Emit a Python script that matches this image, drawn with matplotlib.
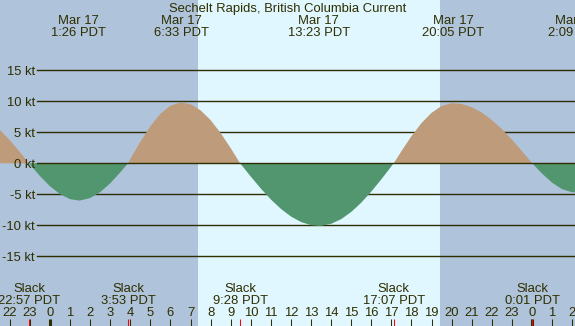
import matplotlib
matplotlib.use("Agg")
import matplotlib.pyplot as plt
import matplotlib.transforms as mtransforms

plt.rcParams['font.family'] = ['Liberation Sans', 'DejaVu Sans']

# ---- data (hours relative to Mar 17 00:00, current speed in knots) ----
hours = [-2.5, -2.0, -1.5, -1.05, -1.0, -0.5, 0.0, 0.5, 1.0, 1.433, 1.5, 2.0, 2.5, 3.0, 3.5,
         3.883, 4.0, 4.5, 5.0, 5.5, 6.0, 6.5, 6.55, 7.0, 7.5, 8.0, 8.5, 9.0, 9.467,
         9.5, 10.0, 10.5, 11.0, 11.5, 12.0, 12.5, 13.0, 13.383, 13.5, 14.0, 14.5, 15.0,
         15.5, 16.0, 16.5, 17.0, 17.117, 17.5, 18.0, 18.5, 19.0, 19.5, 20.0, 20.083,
         20.5, 21.0, 21.5, 22.0, 22.5, 23.0, 23.5, 24.0, 24.017, 24.5, 25.0, 25.5,
         26.0, 26.25]
speed = [5.40, 3.72, 1.82, 0.0, -0.19, -2.05, -3.70, -4.98, -5.78, -6.0, -5.99, -5.61,
         -4.65, -3.22, -1.46, 0.0, 0.67, 3.48, 5.99, 7.99, 9.29, 9.80, 9.80, 9.51, 8.55,
         6.96, 4.87, 2.44, 0.0, -0.13, -2.14, -4.07, -5.83, -7.35, -8.58, -9.47, -9.98,
         -10.1, -10.09, -9.76, -9.01, -7.85, -6.35, -4.57, -2.59, -0.49, 0.0, 1.95, 4.37,
         6.49, 8.14, 9.24, 9.69, 9.70, 9.57, 9.06, 8.19, 6.99, 5.53, 3.83, 1.98, 0.06,
         0.0, -1.64, -3.11, -4.17, -4.67, -4.69]

max_times = [1.433, 6.55, 13.383, 20.083, 26.15]
max_labels = ["1:26 PDT", "6:33 PDT", "13:23 PDT", "20:05 PDT", "2:09 PDT"]
max_dates = ["Mar 17", "Mar 17", "Mar 17", "Mar 17", "Mar 18"]

slack_times = [-1.05, 3.883, 9.467, 17.117, 24.017]
slack_labels = ["22:57 PDT", "3:53 PDT", "9:28 PDT", "17:07 PDT", "0:01 PDT"]

sunrise, sunset = 7.37, 19.42
grid_levels = [15, 10, 5, -5, -10, -15]
title = "Sechelt Rapids, British Columbia Current"

# ---- style ----
W, H = 575, 326
night_c = '#AFC3DA'
day_c = '#E0F7FF'
flood_c = '#BE9B7B'
ebb_c = '#52966F'
fg = '#2E2E00'
fs = 9.4

fig = plt.figure(figsize=(W / 100, H / 100), dpi=100)
ax = fig.add_axes([0, 0, 1, 1])
ax.set_axis_off()
xmin, xmax = -2.49, 26.145
ymin, ymax = -26.24, 26.34
ax.set_xlim(xmin, xmax)
ax.set_ylim(ymin, ymax)

ax.axvspan(xmin, sunrise, color=night_c, lw=0, zorder=0)
ax.axvspan(sunrise, sunset, color=day_c, lw=0, zorder=0)
ax.axvspan(sunset, xmax, color=night_c, lw=0, zorder=0)

# grid lines & labels
gx0 = 37 / W
ytrans = ax.get_yaxis_transform()
lab_trans = mtransforms.offset_copy(ytrans, fig=fig, x=0, y=-5, units='dots')
for lv in grid_levels + [0]:
    ax.axhline(lv, xmin=gx0, xmax=1, color=fg, lw=1.0, zorder=1 if lv != 0 else 4)
    ax.text(35 / W, lv, f"{lv} kt", transform=lab_trans, ha='right', va='baseline',
            color=fg, fontsize=fs, zorder=5)

# current fill
ax.fill_between(hours, speed, 0, where=[s >= 0 for s in speed], interpolate=True,
                color=flood_c, lw=0, zorder=2)
ax.fill_between(hours, speed, 0, where=[s <= 0 for s in speed], interpolate=True,
                color=ebb_c, lw=0, zorder=2)

xtrans = ax.get_xaxis_transform()


def yf(px):
    return 1 - px / H


# title and top labels
ax.text(0.5, yf(11.7), title, transform=ax.transAxes, ha='center', va='baseline',
        color=fg, fontsize=fs, zorder=6)
for t, d, lab in zip(max_times, max_dates, max_labels):
    ax.text(t, yf(24), d, transform=xtrans, ha='center', va='baseline', color=fg,
            fontsize=fs, zorder=6)
    ax.text(t, yf(36), lab, transform=xtrans, ha='center', va='baseline', color=fg,
            fontsize=fs, zorder=6)

# slack labels
for t, lab in zip(slack_times, slack_labels):
    ax.text(t, yf(291.7), "Slack", transform=xtrans, ha='center', va='baseline',
            color=fg, fontsize=fs, zorder=6)
    ax.text(t, yf(304.3), lab, transform=xtrans, ha='center', va='baseline',
            color=fg, fontsize=fs, zorder=6)

# hour ticks
tick_top = yf(319)
for h in range(-2, 27):
    ax.text(h, yf(316), str(h % 24), transform=xtrans, ha='center', va='baseline',
            color=fg, fontsize=fs, zorder=6)
    lw = 2.2 if h % 24 == 0 else 0.75
    ax.plot([h, h], [0, tick_top], transform=xtrans, color=fg, lw=lw,
            solid_capstyle='butt', zorder=6)
for t in slack_times:
    ax.plot([t, t], [0, tick_top], transform=xtrans, color='#FF0000', lw=0.75,
            solid_capstyle='butt', zorder=7)

fig.savefig("out.png", dpi=100)
